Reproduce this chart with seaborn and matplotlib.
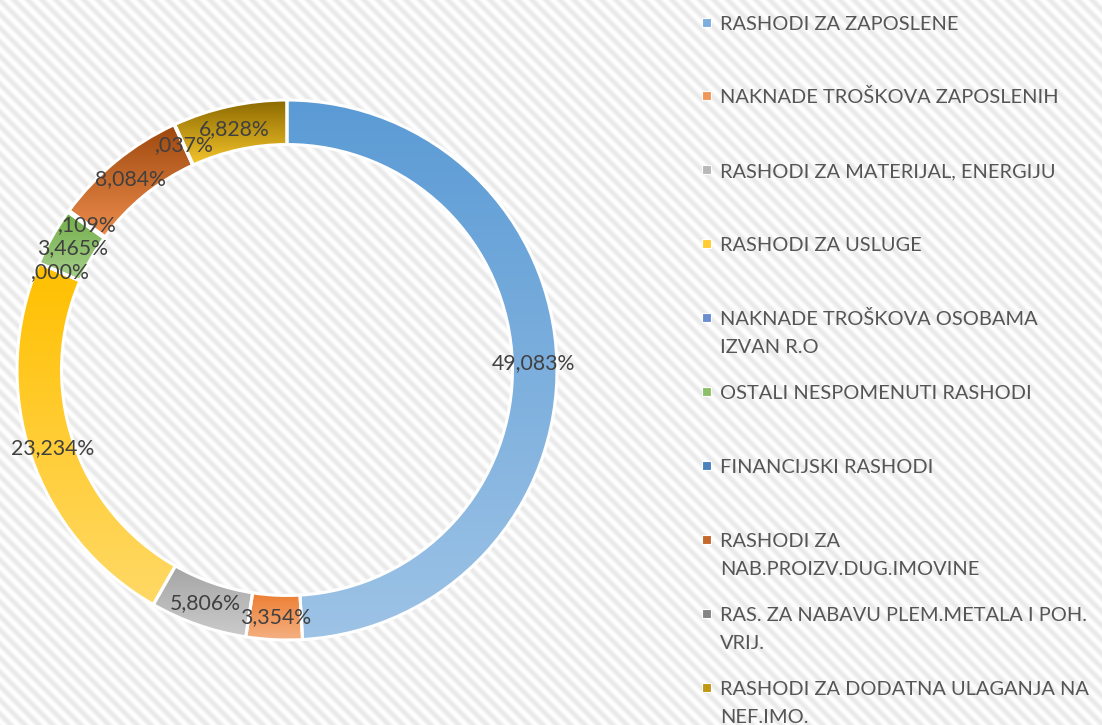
import numpy as np
import matplotlib
matplotlib.use("Agg")
import matplotlib.pyplot as plt
from matplotlib.patches import Rectangle
import seaborn as sns

# data
categories = [
    "RASHODI ZA ZAPOSLENE",
    "NAKNADE TROŠKOVA ZAPOSLENIH",
    "RASHODI ZA MATERIJAL, ENERGIJU",
    "RASHODI ZA USLUGE",
    "NAKNADE TROŠKOVA OSOBAMA\nIZVAN R.O",
    "OSTALI NESPOMENUTI RASHODI",
    "FINANCIJSKI RASHODI",
    "RASHODI ZA\nNAB.PROIZV.DUG.IMOVINE",
    "RAS. ZA NABAVU PLEM.METALA I POH.\nVRIJ.",
    "RASHODI ZA DODATNA ULAGANJA NA\nNEF.IMO.",
]
shares = [49.083, 3.354, 5.806, 23.234, 0.000, 3.465, 0.109, 8.084, 0.037, 6.828]

# gradient colours (top -> bottom) per slice
top_colors = ["#5B9BD5", "#ED7D31", "#A5A5A5", "#FFC000", "#4472C4",
              "#70AD47", "#2A64A6", "#9E480E", "#636363", "#8C6A00"]
bottom_colors = ["#9DC3E6", "#F4B183", "#CBCBCB", "#FFD966", "#8FAADC",
                 "#A9D18E", "#6C9FD6", "#EC8C4C", "#A5A5A5", "#F5C52C"]

W, H = 1102, 725
sns.set_theme(style="white")
plt.rcParams["font.family"] = ["Lato", "DejaVu Sans"]

fig = plt.figure(figsize=(W / 100, H / 100), dpi=100)

# striped background
cols, rows = np.meshgrid(np.arange(W), np.arange(H))
phase = ((cols - rows) % 14) / 14.0
stripes = 1 - 0.09 * (0.5 + 0.5 * np.cos(2 * np.pi * phase))
bg = fig.add_axes([0, 0, 1, 1], zorder=-1)
bg.imshow(stripes, cmap="gray", vmin=0, vmax=1, extent=(0, W, H, 0),
          aspect="auto", interpolation="nearest")
bg.axis("off")

# donut: centre (287, 370) px, outer radius 270 px
cx, cy, R = 287, 370, 270
half = 287
ax = fig.add_axes([(cx - half) / W, (H - cy - half) / H, 2 * half / W, 2 * half / H])
ax.set_facecolor("none")


def fmt(p):
    s = f"{p:.3f}".replace(".", ",")
    if s.startswith("0"):
        s = s[1:]
    return s + "%"


wedges, texts, autotexts = ax.pie(
    shares, startangle=90, counterclock=False, radius=1,
    autopct=fmt, pctdistance=0.915,
    wedgeprops=dict(width=0.165, edgecolor="white", linewidth=2.2),
    textprops=dict(color="#404040", fontsize=15.3),
)

for w, v, c0, c1 in zip(wedges, shares, top_colors, bottom_colors):
    w.set_facecolor("none")
    w.set_zorder(2)
    if v <= 0:
        continue
    ext = w.get_path().get_extents()
    grad = np.array(sns.blend_palette([c0, c1], n_colors=64))[:, None, :]
    im = ax.imshow(grad, extent=(ext.x0, ext.x1, ext.y0, ext.y1), origin="upper",
                   aspect="auto", interpolation="bilinear", zorder=1)
    im.set_clip_path(w)

for t in autotexts:
    t.set_zorder(3)

lim = half / R
ax.set_xlim(-lim, lim)
ax.set_ylim(-lim, lim)
ax.axis("off")

# legend drawn at the right
lx, ly0, step, line_gap = 720, 22, 73.9, 28
for i, (name, c0, c1) in enumerate(zip(categories, top_colors, bottom_colors)):
    y = ly0 + step * i
    mid = sns.blend_palette([c0, c1], n_colors=3)[1]
    fig.patches.append(Rectangle(((702) / W, 1 - (y + 4.5) / H), 9 / W, 9 / H,
                                 transform=fig.transFigure, facecolor=mid,
                                 edgecolor="white", linewidth=0.8))
    for j, line in enumerate(name.split("\n")):
        fig.text(lx / W, 1 - (y + line_gap * j + 7.5) / H, line,
                 fontsize=14.4, color="#555555", ha="left", va="baseline")

fig.savefig("out.png", dpi=100)
